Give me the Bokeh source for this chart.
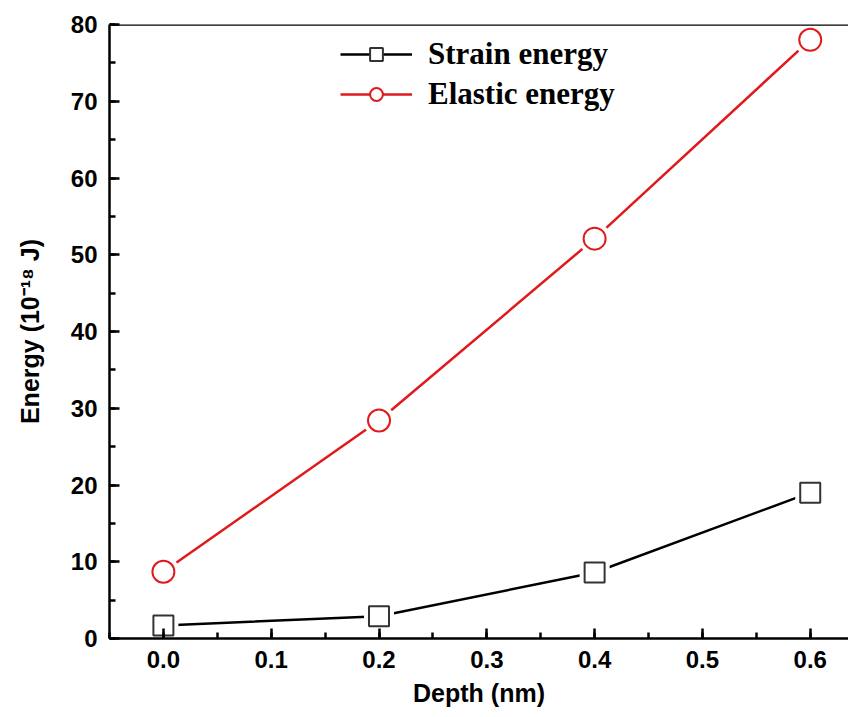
from bokeh.plotting import figure
from bokeh.models import Range1d, Span, Legend, LegendItem, SingleIntervalTicker, NumeralTickFormatter
from bokeh.embed import file_html
from bokeh.resources import INLINE

depth = [0.0, 0.2, 0.4, 0.6]
strain_energy = [1.7, 2.9, 8.6, 19.0]
elastic_energy = [8.7, 28.4, 52.1, 78.0]

p = figure(width=848, height=709, output_backend="svg", toolbar_location=None,
           x_range=Range1d(-0.05, 0.6355), y_range=Range1d(0, 80),
           min_border_left=109, min_border_right=0, min_border_top=24, min_border_bottom=71)
p.outline_line_color = None
p.grid.visible = False
p.background_fill_color = "white"
p.border_fill_color = "white"

l1 = p.line(depth, strain_energy, line_color="black", line_width=2.5)
l2 = p.line(depth, elastic_energy, line_color="#e0191c", line_width=2.5)
p.scatter(depth, strain_energy, marker="square", size=30, fill_color="white", line_color=None)
p.scatter(depth, elastic_energy, marker="circle", size=32, fill_color="white", line_color=None)
sq = p.scatter(depth, strain_energy, marker="square", size=20, fill_color="white",
               line_color="#333333", line_width=2)
ci = p.scatter(depth, elastic_energy, marker="circle", size=22, fill_color="white",
               line_color="#e0191c", line_width=2)

p.add_layout(Span(location=80, dimension="width", line_color="black", line_width=2.5))

for ax in [p.xaxis[0], p.yaxis[0]]:
    ax.axis_line_width = 2.5
    ax.axis_line_color = "black"
    ax.major_tick_line_width = 2.5
    ax.minor_tick_line_width = 2.5
    ax.major_tick_in = 10
    ax.major_tick_out = 0
    ax.minor_tick_in = 6
    ax.minor_tick_out = 0
    ax.major_label_text_font = "Liberation Sans"
    ax.major_label_text_font_style = "bold"
    ax.major_label_text_font_size = "24px"
    ax.major_label_text_color = "black"
    ax.axis_label_text_font = "Liberation Sans"
    ax.axis_label_text_font_style = "bold"
    ax.axis_label_text_font_size = "25px"
    ax.axis_label_text_color = "black"

p.xaxis[0].ticker = SingleIntervalTicker(interval=0.1, num_minor_ticks=2)
p.yaxis[0].ticker = SingleIntervalTicker(interval=10, num_minor_ticks=2)
p.xaxis[0].formatter = NumeralTickFormatter(format="0.0")
p.xaxis[0].axis_label = "Depth (nm)"
p.yaxis[0].axis_label = "Energy (10\u207b\u00b9\u2078 J)"
p.xaxis[0].major_label_standoff = 12
p.yaxis[0].major_label_standoff = 12
p.xaxis[0].axis_label_standoff = 8
p.yaxis[0].axis_label_standoff = 24

legend = Legend(items=[LegendItem(label="Strain energy", renderers=[l1, sq]),
                       LegendItem(label="Elastic energy", renderers=[l2, ci])],
                location=(231, 526))
legend.border_line_color = None
legend.background_fill_alpha = 0
legend.label_text_font = "Liberation Serif"
legend.label_text_font_style = "bold"
legend.label_text_font_size = "31px"
legend.label_text_color = "black"
legend.glyph_width = 72
legend.glyph_height = 32
legend.label_height = 32
legend.spacing = 4
legend.label_standoff = 16
legend.padding = 0
legend.margin = 0
p.add_layout(legend)

open("out.html", "w").write(file_html(p, INLINE))
